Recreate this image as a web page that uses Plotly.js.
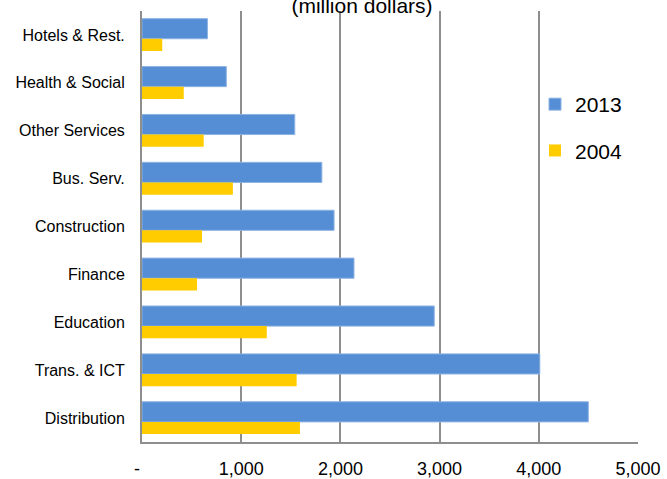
<!DOCTYPE html>
<html>
<head>
<meta charset="utf-8">
<script src="https://cdn.plot.ly/plotly-3.0.1.min.js"></script>
<style>html,body{margin:0;padding:0;background:#fff;}#chart{width:667px;height:479px;}</style>
</head>
<body>
<div id="chart"></div>
<script>
const categories = ["Distribution", "Trans. & ICT", "Education", "Finance", "Construction", "Bus. Serv.", "Other Services", "Health & Social", "Hotels & Rest."];
const values2013 = [4499, 4010, 2946, 2137, 1936, 1813, 1540, 850, 660];
const values2004 = [1592, 1559, 1258, 555, 605, 916, 622, 421, 204];
const xTickValues = [0, 1000, 2000, 3000, 4000, 5000];
const xTickLabels = ["-\u00a0\u00a0", "1,000", "2,000", "3,000", "4,000", "5,000"];

const traces = [
  {
    type: "bar", orientation: "h", name: "2013", legendgroup: "a",
    y: categories, x: values2013,
    offset: -0.08, width: 0.42,
    marker: {color: "#558ED5", line: {color: "#8DB3E2", width: 1}},
    hoverinfo: "none"
  },
  {
    type: "bar", orientation: "h", name: "2004", legendgroup: "b",
    y: categories, x: values2004,
    offset: -0.335, width: 0.255,
    marker: {color: "#FFCC00", line: {width: 0}},
    hoverinfo: "none"
  }
];

const layout = {
  width: 667, height: 479,
  paper_bgcolor: "#fff", plot_bgcolor: "#fff",
  margin: {l: 142, r: 29, t: 11, b: 37, pad: 0, autoexpand: false},
  barmode: "overlay",
  font: {family: "Liberation Sans, Arial, sans-serif", color: "#000"},
  title: {
    text: "(million dollars)",
    font: {size: 21, family: "Liberation Sans, Arial, sans-serif", color: "#000"},
    x: 362 / 667, xanchor: "center", xref: "container",
    y: 1 - 13 / 479, yanchor: "bottom", yref: "container"
  },
  xaxis: {
    range: [0, 5000],
    tickvals: xTickValues, ticktext: xTickLabels,
    showgrid: true, gridcolor: "#8e8e8e", gridwidth: 2,
    zeroline: false,
    showline: true, linecolor: "#8e8e8e", linewidth: 2,
    ticks: "", ticklabelstandoff: 9,
    tickfont: {size: 18, family: "Liberation Sans, Arial, sans-serif", color: "#000"},
    fixedrange: true
  },
  yaxis: {
    type: "category",
    categoryorder: "array", categoryarray: categories,
    range: [-0.5, 8.5],
    showgrid: false, zeroline: false,
    showline: true, linecolor: "#8e8e8e", linewidth: 2,
    ticks: "", ticklabelstandoff: 12,
    tickfont: {size: 16, family: "Liberation Sans, Arial, sans-serif", color: "#000"},
    fixedrange: true
  },
  showlegend: true,
  legend: {
    x: (535 - 142) / 496, xref: "paper", xanchor: "left",
    y: (442 - 84) / 431, yref: "paper", yanchor: "top",
    bgcolor: "rgba(255,255,255,0)",
    font: {size: 21, family: "Liberation Sans, Arial, sans-serif", color: "#000"},
    traceorder: "grouped", tracegroupgap: 16,
    itemwidth: 30
  }
};

Plotly.newPlot("chart", traces, layout, {displayModeBar: false, staticPlot: true});
</script>
</body>
</html>
